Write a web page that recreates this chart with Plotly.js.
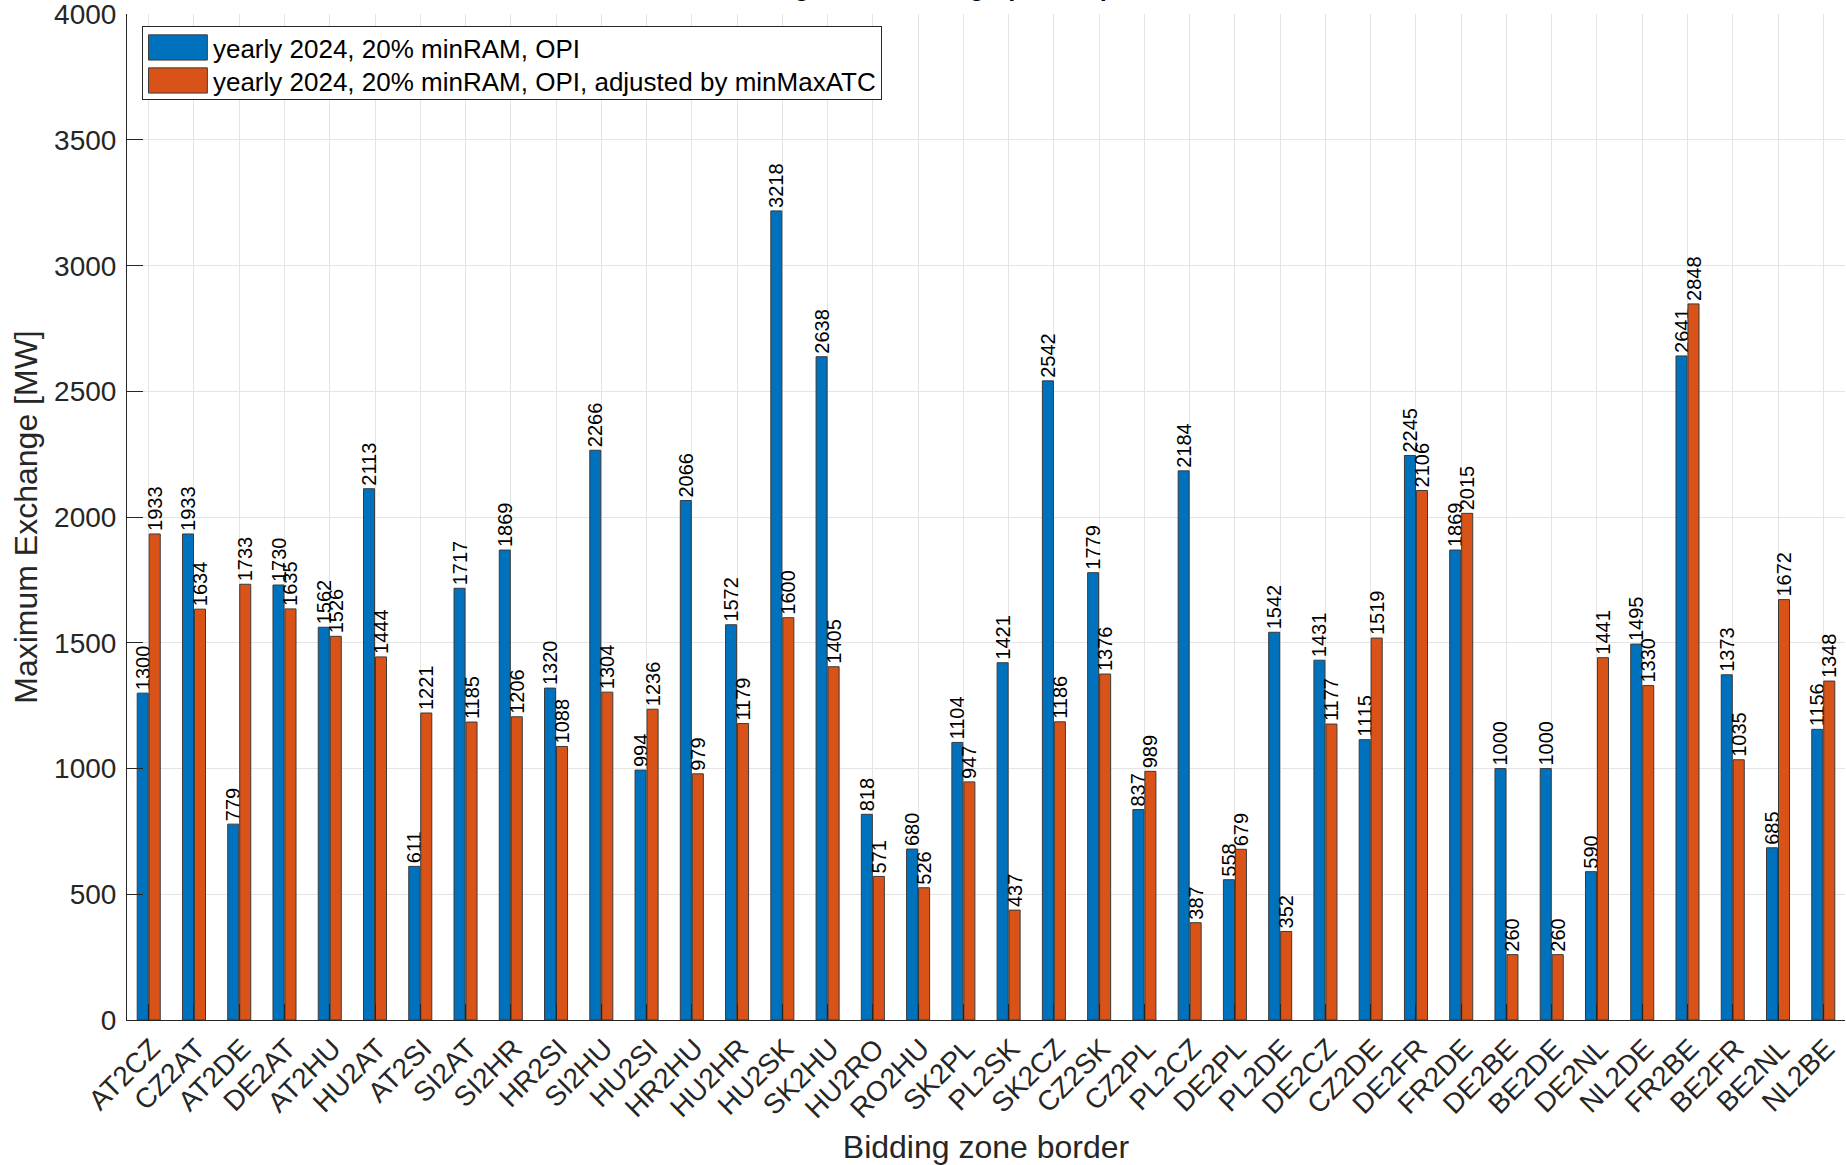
<!DOCTYPE html>
<html>
<head>
<meta charset="utf-8">
<script src="https://cdn.plot.ly/plotly-3.0.1.min.js"></script>
<style>html,body{margin:0;padding:0;background:#fff;}#chart{width:1846px;height:1165px;}</style>
</head>
<body>
<div id="chart"></div>
<script>
const borders = ["AT2CZ","CZ2AT","AT2DE","DE2AT","AT2HU","HU2AT","AT2SI","SI2AT","SI2HR","HR2SI",
  "SI2HU","HU2SI","HR2HU","HU2HR","HU2SK","SK2HU","HU2RO","RO2HU","SK2PL","PL2SK",
  "SK2CZ","CZ2SK","CZ2PL","PL2CZ","DE2PL","PL2DE","DE2CZ","CZ2DE","DE2FR","FR2DE",
  "DE2BE","BE2DE","DE2NL","NL2DE","FR2BE","BE2FR","BE2NL","NL2BE"];
const opi = [1300,1933,779,1730,1562,2113,611,1717,1869,1320,
  2266,994,2066,1572,3218,2638,818,680,1104,1421,
  2542,1779,837,2184,558,1542,1431,1115,2245,1869,
  1000,1000,590,1495,2641,1373,685,1156];
const opiAdjusted = [1933,1634,1733,1635,1526,1444,1221,1185,1206,1088,
  1304,1236,979,1179,1600,1405,571,526,947,437,
  1186,1376,989,387,679,352,1177,1519,2106,2015,
  260,260,1441,1330,2848,1035,1672,1348];
const seriesNames = ["yearly 2024, 20% minRAM, OPI","yearly 2024, 20% minRAM, OPI, adjusted by minMaxATC"];
const yTicks = [0,500,1000,1500,2000,2500,3000,3500,4000];

const FONT = "Liberation Sans, Arial, Helvetica, sans-serif";
function barTrace(vals, name, color){
  return {
    type: "bar", x: borders, y: vals, name: name,
    marker: {color: color, line: {color: "#3a3a3a", width: 1}},
    text: vals.map(String), texttemplate: "%{text}",
    textposition: "outside", textangle: -90, constraintext: "none",
    cliponaxis: false,
    textfont: {family: FONT, size: 20, color: "#000"},
    hoverinfo: "x+y"
  };
}
const data = [barTrace(opi, seriesNames[0], "#0072BD"), barTrace(opiAdjusted, seriesNames[1], "#D95319")];

const H = 1165, W = 1846;
const layout = {
  width: W, height: H,
  paper_bgcolor: "#fff", plot_bgcolor: "#fff",
  font: {family: FONT, color: "#262626"},
  margin: {l: 127, r: 1, t: 14, b: 145, pad: 0},
  barmode: "group", bargap: 0.47, bargroupgap: 0.08,
  showlegend: true,
  title: {text: "<b>Maximum Bidding zone Exchange (median)</b>", font: {family: FONT, size: 25, color: "#000"},
    xref: "container", yref: "container", x: 852/W, xanchor: "center", y: 1, yanchor: "bottom", pad: {b: 4}},
  xaxis: {
    type: "category", range: [-0.48, 37.48],
    tickangle: -45, tickfont: {family: FONT, size: 28, color: "#262626"}, ticklabelshift: 3,
    ticks: "inside", ticklen: 16, tickcolor: "#262626", tickwidth: 1,
    showgrid: true, gridcolor: "#e4e4e4", gridwidth: 1,
    showline: true, linecolor: "#262626", linewidth: 1, mirror: false,
    title: {text: "Bidding zone border", font: {family: FONT, size: 32, color: "#262626"}, standoff: 13},
    automargin: false
  },
  yaxis: {
    range: [0, 4001], tickvals: yTicks, ticktext: yTicks.map(String),
    tickfont: {family: FONT, size: 28, color: "#262626"}, ticklabeloverflow: "allow", ticklabelstandoff: 4,
    ticks: "inside", ticklen: 16, tickcolor: "#262626", tickwidth: 1,
    showgrid: true, gridcolor: "#e4e4e4", gridwidth: 1, zeroline: false,
    showline: true, linecolor: "#262626", linewidth: 1, mirror: false,
    title: {text: "Maximum Exchange [MW]", font: {family: FONT, size: 32, color: "#262626"}, standoff: 6},
    automargin: false
  },
  legend: {
    x: 0.0087, y: 0.988, xanchor: "left", yanchor: "top",
    bgcolor: "#fff", bordercolor: "#262626", borderwidth: 1,
    font: {family: FONT, size: 26, color: "#000"},
    itemwidth: 60, tracegroupgap: 0
  }
};
function parseTranslate(s){
  const m = /translate\(\s*([-\d.e]+)[ ,]+([-\d.e]+)\s*\)/.exec(s || "");
  return m ? [parseFloat(m[1]), parseFloat(m[2])] : null;
}
Plotly.newPlot("chart", data, layout, {displayModeBar: false, staticPlot: true}).then(function(gd){
  // widen the legend swatches to the reference's rectangular keys
  gd.querySelectorAll(".legend .legendpoints path").forEach(function(p){
    p.setAttribute("vector-effect", "non-scaling-stroke");
    const t = p.getAttribute("transform") || "";
    p.setAttribute("transform", t + " scale(4.9,2.1)");
  });
  // tighten legend rows to the reference's spacing
  const leg = gd.querySelector(".legend");
  if (leg) {
    const items = leg.querySelectorAll(".traces");
    const bg = leg.querySelector("rect.bg");
    if (items.length === 2 && bg) {
      const a = parseTranslate(items[0].getAttribute("transform"));
      const b = parseTranslate(items[1].getAttribute("transform"));
      if (a && b) {
        const y0 = a[1] - 3, step = 33;
        items[0].setAttribute("transform", "translate(" + a[0] + "," + y0 + ")");
        items[1].setAttribute("transform", "translate(" + b[0] + "," + (y0 + step) + ")");
        bg.setAttribute("height", 73);
      }
    }
  }
});
</script>
</body>
</html>
